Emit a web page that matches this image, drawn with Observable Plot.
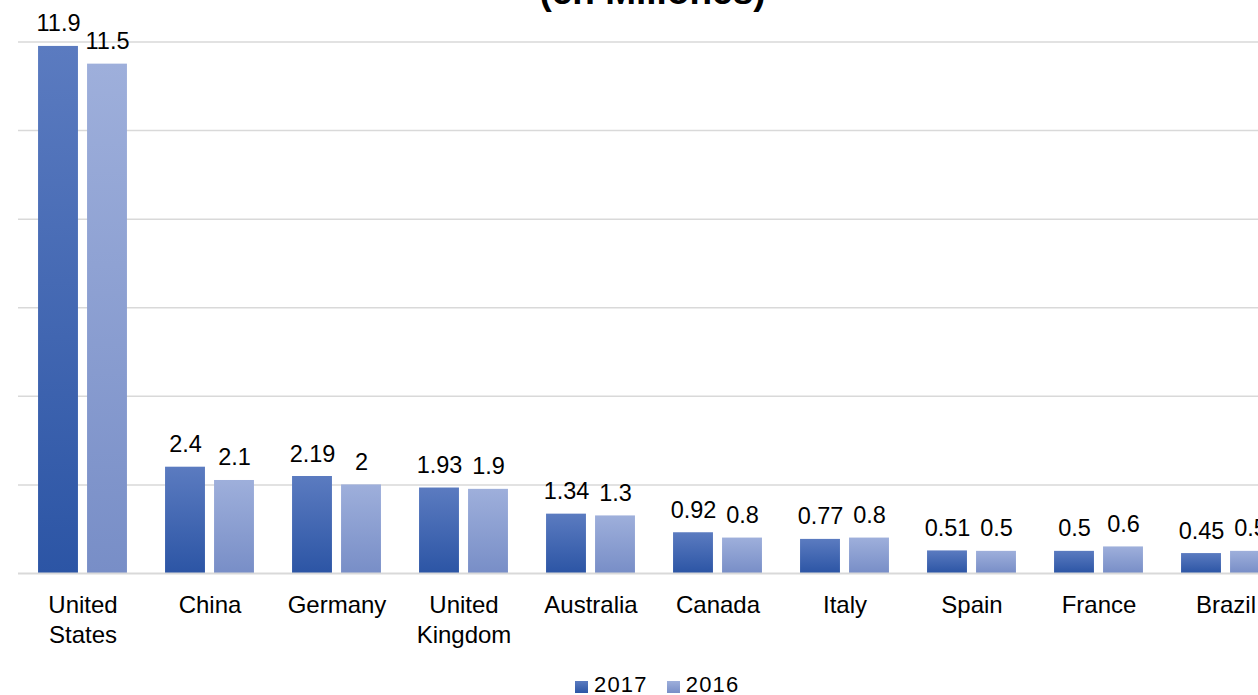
<!DOCTYPE html>
<html>
<head>
<meta charset="utf-8">
<script src="https://cdn.jsdelivr.net/npm/d3@7"></script>
<script src="https://cdn.jsdelivr.net/npm/@observablehq/plot@0.6"></script>
<style>
  html, body { margin: 0; padding: 0; background: #fff; overflow: hidden; width: 1258px; height: 695px; }
  body { position: relative; font-family: "Liberation Sans", Arial, Helvetica, sans-serif; }
  #title { position: absolute; left: 0; width: 1305px; top: -27px; text-align: center; font-weight: bold; font-size: 37px; line-height: 37px; color: #000; white-space: nowrap; z-index: 2; }
  #chart { position: absolute; left: 0; top: 0; z-index: 1; }
  #chart svg { max-width: none; overflow: hidden; }
  #legend { position: absolute; left: 575px; top: 673px; display: flex; align-items: center; font-size: 22px; letter-spacing: 1.2px; line-height: 24px; color: #000; }
  .sw { width: 13px; height: 12px; display: inline-block; margin-right: 6px; margin-top: 3px; }
  .item { display: flex; align-items: center; margin-right: 19px; }
</style>
</head>
<body>
<div id="chart"></div>
<div id="title">(en Millones)</div>
<div id="legend"></div>
<script>
const countries = ["United States", "China", "Germany", "United Kingdom", "Australia", "Canada", "Italy", "Spain", "France", "Brazil"];
const countryLabels = ["United\nStates", "China", "Germany", "United\nKingdom", "Australia", "Canada", "Italy", "Spain", "France", "Brazil"];
const series = ["2017", "2016"];
const values2017 = [11.9, 2.4, 2.19, 1.93, 1.34, 0.92, 0.77, 0.51, 0.5, 0.45];
const values2016 = [11.5, 2.1, 2, 1.9, 1.3, 0.8, 0.8, 0.5, 0.6, 0.5];
const gridTicks = [2, 4, 6, 8, 10, 12];

const d2017 = countries.map((c, i) => ({country: c, value: values2017[i]}));
const d2016 = countries.map((c, i) => ({country: c, value: values2016[i]}));
const labelData = countries.map((c, i) => ({country: c, label: countryLabels[i]}));

const step = 127.1, barW = 40, off = 24.5;
const inNear = step / 2 - off - barW / 2;
const inFar = step - inNear - barW;
const font = "Liberation Sans, Arial, Helvetica, sans-serif";

const plot = Plot.plot({
  width: 1289,
  height: 660,
  marginLeft: 18,
  marginRight: 0,
  marginTop: 41.5,
  marginBottom: 87,
  style: {fontFamily: font, background: "transparent"},
  x: {domain: countries, padding: 0, axis: null},
  y: {domain: [0, 12], axis: null},
  marks: [
    Plot.ruleY(gridTicks, {stroke: "#d9d9d9", strokeWidth: 1.5}),
    Plot.barY(d2017, {x: "country", y: "value", fill: "url(#g2017)", insetLeft: inNear, insetRight: inFar}),
    Plot.barY(d2016, {x: "country", y: "value", fill: "url(#g2016)", insetLeft: inFar, insetRight: inNear}),
    Plot.ruleY([0], {stroke: "#d9d9d9", strokeWidth: 2}),
    Plot.text(d2017, {x: "country", y: "value", text: d => String(d.value), dx: -off, dy: -15, lineAnchor: "bottom", fontSize: 23.5, fill: "#000"}),
    Plot.text(d2016, {x: "country", y: "value", text: d => String(d.value), dx: off, dy: -15, lineAnchor: "bottom", fontSize: 23.5, fill: "#000"}),
    Plot.text(labelData, {x: "country", y: 0, text: "label", lineAnchor: "top", dy: 19, lineHeight: 1.22, fontSize: 24, fill: "#000"})
  ]
});

const defs = d3.select(plot).insert("defs", ":first-child");
const g1 = defs.append("linearGradient").attr("id", "g2017").attr("x1", 0).attr("y1", 0).attr("x2", 0).attr("y2", 1);
g1.append("stop").attr("offset", "0%").attr("stop-color", "#5b7bc0");
g1.append("stop").attr("offset", "100%").attr("stop-color", "#2c55a5");
const g2 = defs.append("linearGradient").attr("id", "g2016").attr("x1", 0).attr("y1", 0).attr("x2", 0).attr("y2", 1);
g2.append("stop").attr("offset", "0%").attr("stop-color", "#9eafdb");
g2.append("stop").attr("offset", "100%").attr("stop-color", "#788ec7");

document.getElementById("chart").appendChild(plot);

const legend = document.getElementById("legend");
const swatchFills = {"2017": "linear-gradient(#5b7bc0, #2c55a5)", "2016": "linear-gradient(#9eafdb, #788ec7)"};
series.forEach(s => {
  const item = document.createElement("div");
  item.className = "item";
  const sw = document.createElement("span");
  sw.className = "sw";
  sw.style.background = swatchFills[s];
  const t = document.createElement("span");
  t.textContent = s;
  item.appendChild(sw);
  item.appendChild(t);
  legend.appendChild(item);
});
</script>
</body>
</html>
